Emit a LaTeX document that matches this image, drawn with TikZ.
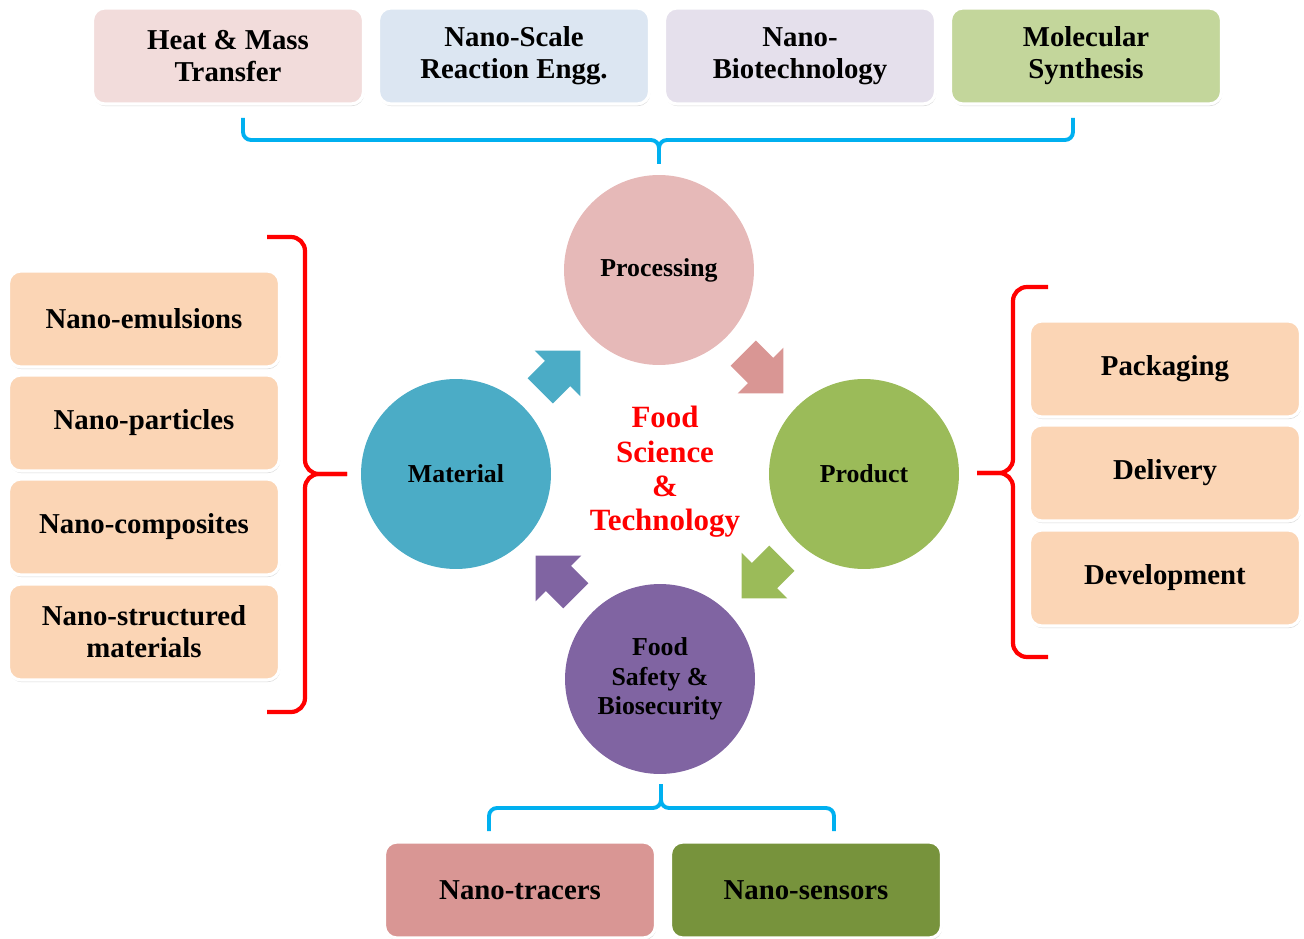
\documentclass[tikz,border=0pt]{standalone}
\usepackage{fontspec}
\setmainfont{Liberation Serif}
\usetikzlibrary{shapes.arrows,shadows}
\definecolor{heatpink}{HTML}{F2DCDB}
\definecolor{scaleblue}{HTML}{DCE6F2}
\definecolor{biolilac}{HTML}{E5E0EC}
\definecolor{molgreen}{HTML}{C3D69B}
\definecolor{peach}{HTML}{FBD5B5}
\definecolor{procpink}{HTML}{E6B9B8}
\definecolor{matcyan}{HTML}{4BACC6}
\definecolor{prodgreen}{HTML}{9BBB59}
\definecolor{safepurple}{HTML}{8064A2}
\definecolor{tracerrose}{HTML}{D99694}
\definecolor{sensorolive}{HTML}{77933C}
\definecolor{bracecyan}{HTML}{00B0F0}
\begin{document}
\begin{tikzpicture}[x=0.02cm, y=-0.02cm, font=\bfseries\fontsize{16.4}{18.3}\selectfont,
  box/.style={draw=white, line width=1.8pt, rounded corners=7pt, minimum width=5.42cm, minimum height=1.92cm, align=center,
    drop shadow={shadow xshift=0.4pt, shadow yshift=-1.2pt, opacity=0.3}},
  hub/.style={circle, minimum size=3.8cm, inner sep=0pt, align=center, font=\bfseries\fontsize{14.7}{16.8}\selectfont},
  turn/.style={single arrow, single arrow head extend=0.29cm, inner ysep=0.35cm, inner xsep=0pt, minimum height=1.14cm},
  cbrace/.style={bracecyan, line width=2.2pt, rounded corners=0.16cm},
  rbrace/.style={red, line width=2.4pt, rounded corners=0.28cm}]
  \useasboundingbox (0,0) rectangle (1304,939);
  \node[box, fill=heatpink] (heat) at (228,56) {Heat \& Mass\\Transfer};
  \node[box, fill=scaleblue] (react) at (514,56) {Nano-Scale\\Reaction Engg.};
  \node[box, fill=biolilac] (biotech) at (800,56) {Nano-\\Biotechnology};
  \node[box, fill=molgreen] (molsyn) at (1086,56) {Molecular\\Synthesis};
  \draw[cbrace] (243,118) -- (243,140) -- (659,140) -- (659,164);
  \draw[cbrace] (1073,118) -- (1073,140) -- (659,140) -- (659,164);
  \node[hub, fill=procpink] (proc) at (659,270) {Processing};
  \node[hub, fill=matcyan] (mat) at (456,474) {Material};
  \node[hub, fill=prodgreen] (prod) at (864,474) {Product};
  \node[hub, fill=safepurple] (safe) at (660,679) {Food\\Safety \&\\Biosecurity};
  \node[turn, fill=matcyan, rotate=45] (up) at (554,377) {};
  \node[turn, fill=tracerrose, rotate=-45] (right) at (757,367) {};
  \node[turn, fill=prodgreen, rotate=-135] (down) at (768,572) {};
  \node[turn, fill=safepurple, rotate=135] (left) at (562,582) {};
  \node[text=red, align=center, font=\bfseries\fontsize{17.6}{19.6}\selectfont] (fst) at (665,472) {Food\\Science\\\&\\Technology};
  \node[box, fill=peach] (emul) at (144,319) {Nano-emulsions};
  \node[box, fill=peach] (part) at (144,423) {Nano-particles};
  \node[box, fill=peach] (comp) at (144,527) {Nano-composites};
  \node[box, fill=peach] (struct) at (144,632) {Nano-structured\\materials};
  \draw[rbrace] (267,237) -- (305,237) -- (305,474) -- (347,474);
  \draw[rbrace] (267,712) -- (305,712) -- (305,474) -- (347,474);
  \node[box, fill=peach] (pack) at (1165,369) {Packaging};
  \node[box, fill=peach] (deliv) at (1165,473) {Delivery};
  \node[box, fill=peach] (devel) at (1165,578) {Development};
  \draw[rbrace] (1048,287) -- (1013,287) -- (1013,473) -- (977,473);
  \draw[rbrace] (1048,657) -- (1013,657) -- (1013,473) -- (977,473);
  \draw[cbrace] (489,831) -- (489,808) -- (661,808) -- (661,784);
  \draw[cbrace] (834,831) -- (834,808) -- (661,808) -- (661,784);
  \node[box, fill=tracerrose] (tracer) at (520,890) {Nano-tracers};
  \node[box, fill=sensorolive] (sensor) at (806,890) {Nano-sensors};
\end{tikzpicture}
\end{document}
